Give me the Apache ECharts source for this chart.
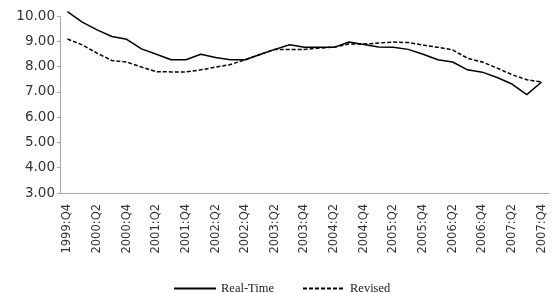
<!DOCTYPE html>
<html>
<head>
<meta charset="utf-8">
<script src="https://cdn.jsdelivr.net/npm/echarts@6/dist/echarts.min.js"></script>
<style>
  html, body { margin: 0; padding: 0; background: #fff; }
  #main { width: 559px; height: 293px; }
</style>
</head>
<body>
<div id="main"></div>
<script>
// quarters 1999:Q4 .. 2007:Q4
const quarters = ['1999:Q4',
  '2000:Q1', '2000:Q2', '2000:Q3', '2000:Q4',
  '2001:Q1', '2001:Q2', '2001:Q3', '2001:Q4',
  '2002:Q1', '2002:Q2', '2002:Q3', '2002:Q4',
  '2003:Q1', '2003:Q2', '2003:Q3', '2003:Q4',
  '2004:Q1', '2004:Q2', '2004:Q3', '2004:Q4',
  '2005:Q1', '2005:Q2', '2005:Q3', '2005:Q4',
  '2006:Q1', '2006:Q2', '2006:Q3', '2006:Q4',
  '2007:Q1', '2007:Q2', '2007:Q3', '2007:Q4'];

const realTime = [10.17, 9.76, 9.45, 9.19, 9.08, 8.70, 8.49, 8.27, 8.27, 8.49, 8.36,
  8.27, 8.27, 8.48, 8.68, 8.86, 8.76, 8.76, 8.76, 8.97, 8.87, 8.77, 8.76, 8.68,
  8.49, 8.27, 8.18, 7.87, 7.78, 7.57, 7.31, 6.89, 7.39];

const revised = [9.09, 8.86, 8.53, 8.24, 8.18, 7.98, 7.80, 7.79, 7.79, 7.87, 7.98,
  8.08, 8.27, 8.48, 8.68, 8.68, 8.68, 8.73, 8.77, 8.89, 8.89, 8.93, 8.97, 8.95,
  8.85, 8.76, 8.66, 8.33, 8.18, 7.94, 7.68, 7.48, 7.39];

const yTicks = { min: 3, max: 10, step: 1 };

let myChart = echarts.init(document.getElementById('main'));

let option = {
  animation: false,
  grid: {
    left: 60,
    right: 10,
    top: 16,
    bottom: 100
  },
  legend: {
    left: 168,
    top: 277,
    itemWidth: 42,
    itemHeight: 14,
    itemGap: 28,
    itemStyle: { opacity: 0 },
    textStyle: {
      fontFamily: 'Liberation Serif',
      fontSize: 12.5,
      color: '#222'
    },
    data: ['Real-Time', 'Revised']
  },
  xAxis: {
    type: 'category',
    data: quarters,
    boundaryGap: true,
    axisLine: { lineStyle: { color: '#a6a6a6', width: 1 } },
    axisTick: { interval: 0, length: 4, lineStyle: { color: '#a6a6a6' } },
    axisLabel: {
      interval: 1,
      rotate: 90,
      margin: 11,
      fontFamily: 'DejaVu Sans',
      fontSize: 11.5,
      color: '#333'
    }
  },
  yAxis: {
    type: 'value',
    min: yTicks.min,
    max: yTicks.max,
    interval: yTicks.step,
    splitLine: { show: false },
    axisLine: { show: true, lineStyle: { color: '#a6a6a6', width: 1 } },
    axisTick: { show: true, length: 3, lineStyle: { color: '#a6a6a6' } },
    axisLabel: {
      margin: 5,
      fontFamily: 'DejaVu Sans',
      fontSize: 13.5,
      color: '#333',
      formatter: v => v.toFixed(2)
    }
  },
  series: [
    {
      name: 'Real-Time',
      type: 'line',
      symbol: 'none',
      clip: false,
      data: realTime,
      lineStyle: { color: '#000', width: 1.5 },
      itemStyle: { color: '#000' }
    },
    {
      name: 'Revised',
      type: 'line',
      symbol: 'none',
      clip: false,
      data: revised,
      lineStyle: { color: '#000', width: 1.5, type: [4, 2] },
      itemStyle: { color: '#000' }
    }
  ]
};

myChart.setOption(option);
</script>
</body>
</html>
